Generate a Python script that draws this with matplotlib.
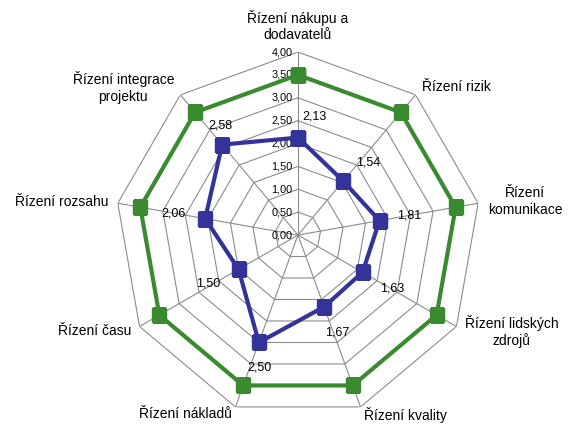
import numpy as np
import matplotlib.pyplot as plt

# ===================== data =====================
categories = ["Řízení nákupu a\ndodavatelů", "Řízení rizik", "Řízení\nkomunikace",
              "Řízení lidských\nzdrojů", "Řízení kvality", "Řízení nákladů",
              "Řízení času", "Řízení rozsahu", "Řízení integrace\nprojektu"]
target = [3.5, 3.5, 3.5, 3.5, 3.5, 3.5, 3.5, 3.5, 3.5]
actual = [2.13, 1.54, 1.81, 1.63, 1.67, 2.50, 1.50, 2.06, 2.58]
r_ticks = [0.0, 0.5, 1.0, 1.5, 2.0, 2.5, 3.0, 3.5, 4.0]

# label offsets in pixels (dx right, dy down), styling only
label_offsets = [(16, -21), (25, -19), (30, -5), (30, 16), (13, 26),
                 (1, 25), (-30, 14), (-32, -5), (-2, -19)]

plt.rcParams['font.family'] = ['Liberation Sans', 'DejaVu Sans']

GREEN = "#3A8A30"
BLUE = "#333399"
GRID = "#8C8C8C"

n = len(categories)
theta = np.arange(n) * 2 * np.pi / n
theta_c = np.append(theta, theta[0])

fig = plt.figure(figsize=(5.68, 4.24), dpi=100)
ax = fig.add_axes([0.2024, 0.0142, 0.6444, 0.863], projection="polar")
ax.set_theta_offset(np.pi / 2)
ax.set_theta_direction(-1)
ax.set_ylim(0, 4)
ax.axis("off")

# polygon grid + spokes
for r in r_ticks[1:]:
    ax.plot(theta_c, [r] * (n + 1), color=GRID, lw=0.8, zorder=1)
for t in theta:
    ax.plot([t, t], [0, 4], color=GRID, lw=0.8, zorder=1)

# radial tick labels
for r in r_ticks:
    ax.annotate(f"{r:.2f}".replace(".", ","), (0, r), xytext=(-4, 0),
                textcoords="offset points", ha="right", va="center", fontsize=7.8)

# series
ax.plot(theta_c, np.append(target, target[0]), color=GREEN, lw=3,
        marker="s", markersize=10, zorder=3)
ax.plot(theta_c, np.append(actual, actual[0]), color=BLUE, lw=3,
        marker="s", markersize=10, zorder=4)

# data labels of blue series
for t, v, (dx, dy) in zip(theta, actual, label_offsets):
    ax.annotate(f"{v:.2f}".replace(".", ","), (t, v), xytext=(dx * 0.72, -dy * 0.72),
                textcoords="offset points", ha="center", va="center", fontsize=9)

# category labels
for t, lab in zip(theta, categories):
    s, c = np.sin(t), np.cos(t)
    ha = "left" if s > 0.1 else ("right" if s < -0.1 else "center")
    if c > 0.8:
        va, oy = "bottom", 7
    elif c < -0.8:
        va, oy = "top", 0
    else:
        va, oy = "center", 7 * c
    ax.annotate(lab, (t, 4.0), xytext=(7 * s, oy), textcoords="offset points",
                ha=ha, va=va, multialignment="center", fontsize=10)

plt.savefig("out.png", dpi=100)
